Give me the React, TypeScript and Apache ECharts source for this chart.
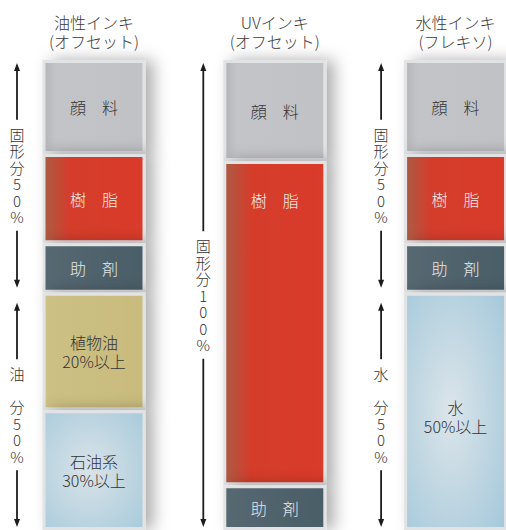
import React, { useEffect, useRef } from 'react';
import * as echarts from 'echarts';

// ---- data (percent of ink composition) ----
const categories = ['油性インキ\n(オフセット)', 'UVインキ\n(オフセット)', '水性インキ\n(フレキソ)'];
const pigment = [20, 21.5, 20];
const resin = [19, 69, 19];
const additive = [10.5, 9.5, 10.5];
const vegetableOil = [25, null, null];
const petroleumOil = [25.5, null, null];
const water = [null, null, 50.5];

const labelPigment = '顔　料';
const labelResin = '樹　脂';
const labelAdditive = '助　剤';
const labelVegetable = '植物油\n20%以上';
const labelPetroleum = '石油系\n30%以上';
const labelWater = '水\n50%以上';

const axisMin = 0;
const axisMax = 100;

// annotation arrows: column index, value range, vertical text
const arrowCols = [0, 0, 1, 2, 2];
const arrowFrom = [0, 49.5, 0, 0, 49.5];
const arrowTo = [49.5, 100, 100, 49.5, 100];
const arrowTexts = [
  '固\n形\n分\n5\n0\n%',
  '油\n　\n分\n5\n0\n%',
  '固\n形\n分\n1\n0\n0\n%',
  '固\n形\n分\n5\n0\n%',
  '水\n　\n分\n5\n0\n%',
];

const FONT = '"Noto Sans CJK JP", "Noto Sans", sans-serif';
const WEIGHT = 300;

function lin(stops: [number, string][], vertical = false) {
  return {
    type: 'linear',
    x: 0,
    y: 0,
    x2: vertical ? 0 : 1,
    y2: vertical ? 1 : 0,
    colorStops: stops.map(([offset, color]) => ({ offset, color })),
  };
}
function rad(stops: [number, string][], x = 0.45, y = 0.5, r = 0.75) {
  return {
    type: 'radial',
    x,
    y,
    r,
    colorStops: stops.map(([offset, color]) => ({ offset, color })),
  };
}

const toData = (arr: (number | null)[]) => arr.map((v) => (v == null ? '-' : v));

export default function App() {
  const ref = useRef<HTMLDivElement>(null);

  useEffect(() => {
    if (!ref.current) return;
    const chart = echarts.init(ref.current, null, { renderer: 'svg' });

    const baseItem = {
      borderColor: '#e2e3e5',
      borderWidth: 3,
      shadowBlur: 16,
      shadowColor: 'rgba(0,0,0,0.32)',
      shadowOffsetX: 8,
      shadowOffsetY: 0,
    };
    const baseLabel = {
      show: true,
      position: 'inside',
      fontFamily: FONT,
      fontWeight: WEIGHT,
      fontSize: 16,
      lineHeight: 19,
    };

    const mk = (name: string, data: any[], color: any, text: string, textColor: string) => ({
      name,
      type: 'bar',
      stack: 'ink',
      barWidth: 103,
      data,
      itemStyle: { ...baseItem, color },
      label: { ...baseLabel, formatter: text, color: textColor },
      emphasis: { disabled: true },
    });

    const resinData: any[] = toData(resin);
    resinData[1] = { value: resin[1], label: { position: 'insideTop', distance: 29 } };
    const waterData: any[] = toData(water);
    waterData[2] = { value: water[2], label: { offset: [0, 5] } };

    chart.setOption({
      animation: false,
      grid: { left: 3.6, right: 14, top: 60, bottom: 0, containLabel: false },
      xAxis: {
        type: 'category',
        position: 'top',
        data: categories,
        axisLine: { show: false },
        axisTick: { show: false },
        splitLine: { show: false },
        axisLabel: {
          fontFamily: FONT,
          fontWeight: WEIGHT,
          fontSize: 16,
          lineHeight: 18.5,
          color: '#3a3a3a',
          margin: 10,
          interval: 0,
        },
      },
      yAxis: {
        type: 'value',
        inverse: true,
        min: axisMin,
        max: axisMax,
        show: false,
        splitLine: { show: false },
      },
      series: [
        mk(
          '顔料',
          toData(pigment),
          lin([
            [0, '#b3b5b9'],
            [0.12, '#c3c4c8'],
            [1, '#c1c2c6'],
          ]),
          labelPigment,
          '#333333'
        ),
        mk(
          '樹脂',
          resinData,
          lin([
            [0, '#e3262a'],
            [0.02, '#ad5a43'],
            [0.25, '#d43d2c'],
            [1, '#da3a29'],
          ]),
          labelResin,
          '#f4ece8'
        ),
        mk(
          '助剤',
          toData(additive),
          lin([
            [0, '#566871'],
            [1, '#4a5e68'],
          ]),
          labelAdditive,
          '#e2e8eb'
        ),
        mk(
          '植物油',
          toData(vegetableOil),
          lin([
            [0, '#e2d07c'],
            [0.03, '#cdc084'],
            [1, '#c8bb7c'],
          ]),
          labelVegetable,
          '#333333'
        ),
        mk(
          '石油系',
          toData(petroleumOil),
          rad([
            [0, '#d9e3e8'],
            [1, '#a7cadb'],
          ]),
          labelPetroleum,
          '#333333'
        ),
        mk(
          '水',
          waterData,
          rad(
            [
              [0, '#dce5ea'],
              [1, '#9fc6d9'],
            ],
            0.45,
            0.5,
            0.8
          ),
          labelWater,
          '#333333'
        ),
      ],
    });

    // annotation arrows positioned from the axes' scales
    const colOffsets = [-77, -71.5, -74.5];
    const lh = 16.5;
    const els: any[] = [];
    const ink = '#1c1c1c';
    for (let i = 0; i < arrowCols.length; i++) {
      const c = arrowCols[i];
      const cx = chart.convertToPixel({ xAxisIndex: 0 }, c) as number;
      const x = cx + colOffsets[c];
      const insetTop = arrowFrom[i] === axisMin ? 3 : 10;
      const insetBottom = arrowTo[i] === axisMax ? 3 : 5;
      const y0 = (chart.convertToPixel({ yAxisIndex: 0 }, arrowFrom[i]) as number) + insetTop;
      const y1 = (chart.convertToPixel({ yAxisIndex: 0 }, arrowTo[i]) as number) - insetBottom;
      const n = arrowTexts[i].split('\n').length;
      const th = n * lh;
      const mid = (y0 + y1) / 2;
      const head = 8;
      els.push({
        type: 'polygon',
        shape: { points: [[x, y0], [x - 3, y0 + head], [x + 3, y0 + head]] },
        style: { fill: ink },
      });
      els.push({
        type: 'line',
        shape: { x1: x, y1: y0 + head - 1, x2: x, y2: mid - th / 2 - 6 },
        style: { stroke: ink, lineWidth: 1.8 },
      });
      els.push({
        type: 'text',
        x,
        y: mid,
        style: {
          text: arrowTexts[i],
          fill: '#333333',
          fontFamily: FONT,
          fontWeight: WEIGHT,
          fontSize: 15,
          lineHeight: lh,
          align: 'center',
          verticalAlign: 'middle',
          textAlign: 'center',
          textVerticalAlign: 'middle',
        },
      });
      els.push({
        type: 'line',
        shape: { x1: x, y1: mid + th / 2 + 6, x2: x, y2: y1 - head + 1 },
        style: { stroke: ink, lineWidth: 1.8 },
      });
      els.push({
        type: 'polygon',
        shape: { points: [[x, y1], [x - 3, y1 - head], [x + 3, y1 - head]] },
        style: { fill: ink },
      });
    }
    chart.setOption({ graphic: els });

    return () => chart.dispose();
  }, []);

  return (
    <div
      style={{
        position: 'fixed',
        left: 0,
        top: 0,
        width: 506,
        height: 530,
        overflow: 'hidden',
        background: '#ffffff',
      }}
    >
      <div ref={ref} style={{ width: 560, height: 530 }} />
    </div>
  );
}
